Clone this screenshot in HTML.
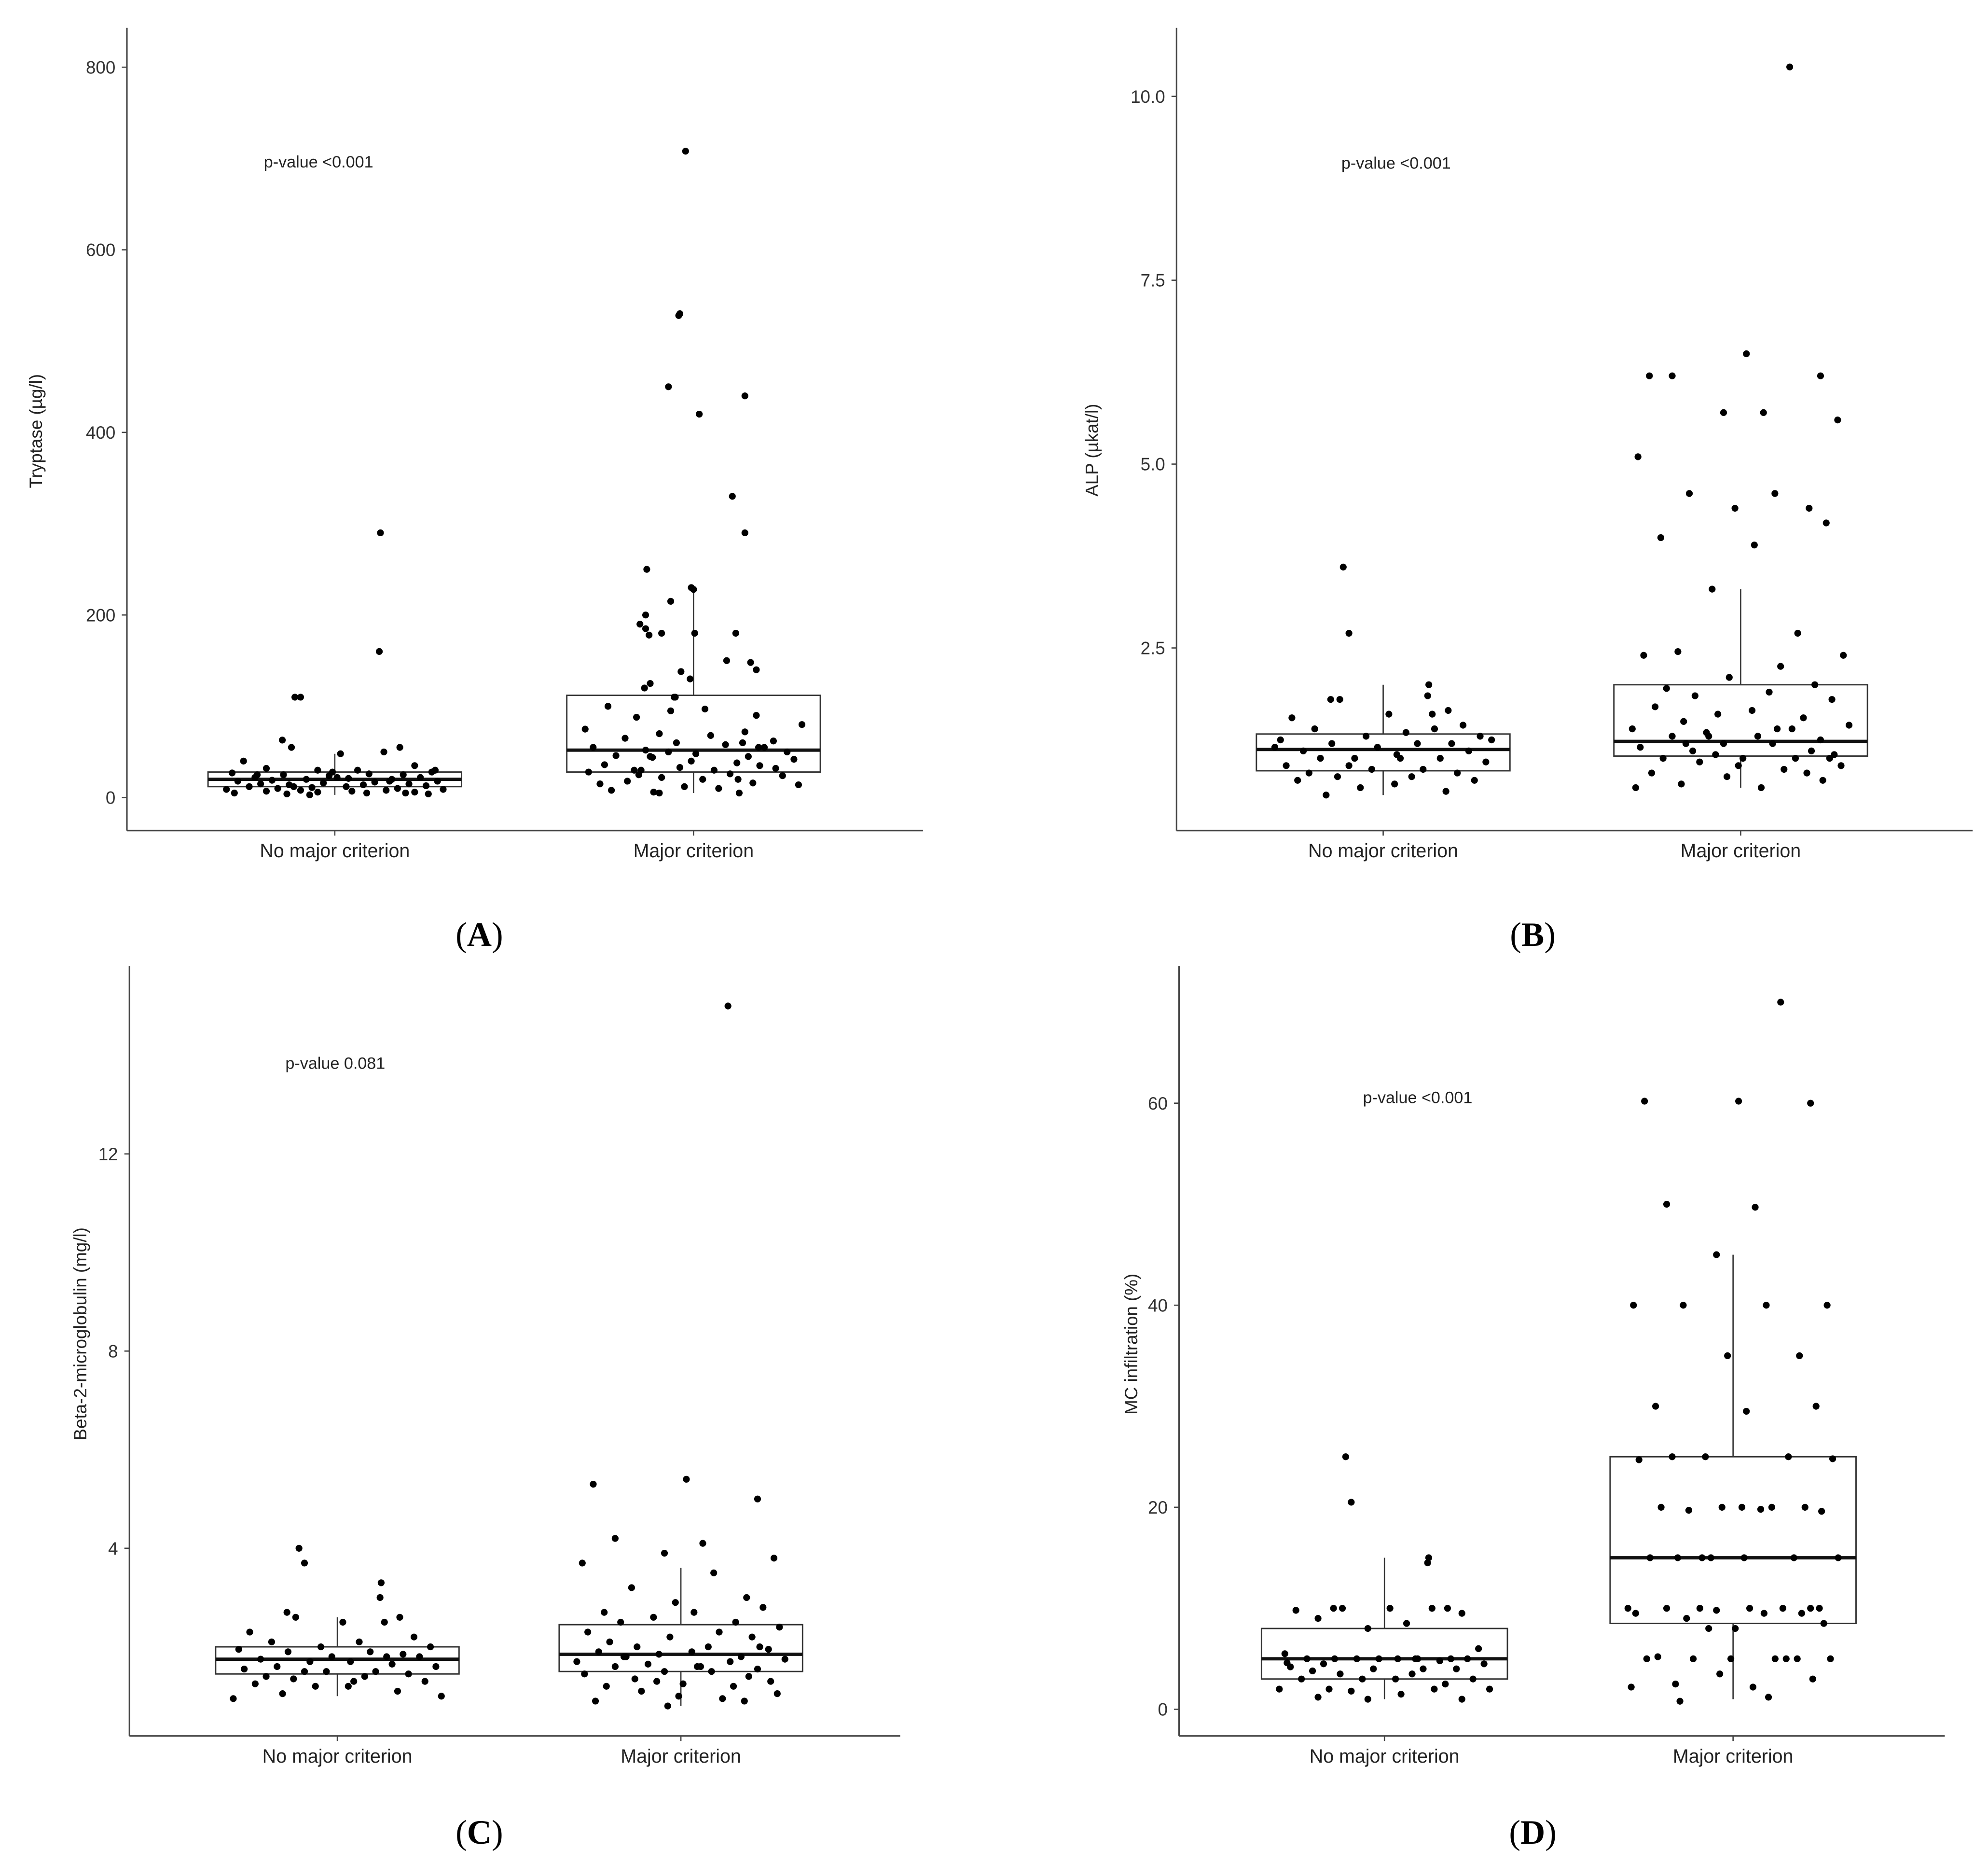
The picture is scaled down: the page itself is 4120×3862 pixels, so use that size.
<!DOCTYPE html>
<html><head><meta charset="utf-8"><style>
html,body{margin:0;padding:0;background:#fff;}
svg{display:block;}
text{font-family:"Liberation Sans",Arial,sans-serif;}
text.serif{font-family:"Liberation Serif","Times New Roman",serif;}
</style></head><body>
<svg id="fig" width="4120" height="3862" viewBox="0 0 1568 1470" xmlns="http://www.w3.org/2000/svg"></svg>
<script>
const categories = ["No major criterion","Major criterion"];
const JIT = [-0.35,-0.3,0.4,0.39,-0.46,-0.38,0.57,0.43,0.05,-0.8,0.7,-0.6,0.2,-0.15,0.85,-0.9,0.3,-0.45,0.6,-0.05,0.75,-0.7,0.12,-0.25,0.5,-0.55,0.9,-0.85,0.35,-0.1,0.65,-0.65,0.25,-0.4,0.8,-0.75,0.1,-0.2,0.55,-0.5,0.95,-0.95,0.45,-0.3,0.15,-0.6,0.7,-0.15,0.28,-0.88,0.62,-0.42,0.82,-0.22,0.02,-0.68,0.48,-0.36,0.88,-0.02,0.38,-0.78,0.58,-0.12,0.72,-0.52,0.18,-0.92,0.32,-0.48,0.78,-0.28,0.08,-0.58,0.52,-0.82,0.92,-0.08,0.22,-0.72];
const JIT2 = [-0.07,-0.12,-0.13,-0.22,0.45,0.05,0.34,0.45,-0.41,-0.02,0.0,-0.2,-0.42,-0.47,-0.42,-0.28,0.01,0.37,-0.39,0.29,0.5,0.55,-0.11,-0.03,-0.38,-0.43,-0.17,-0.16];
const ticksA=[0,200,400,600,800], boxA1=[3,12,20,28,48], boxA2=[5,28,52,112,230];
const ptsA1=[110,110,290,160,63,55,55,50,48,40,35,32,30,30,28,27,26,25,25,24,22,22,21,20,20,19,18,18,17,16,15,15,14,14,13,12,12,11,10,10,9,9,8,8,7,7,6,6,5,5,5,4,4,3,22,25,18,12,30,28];
const ptsA2=[708,530,528,450,440,420,330,290,250,230,228,215,200,190,185,180,180,180,178,150,148,140,138,130,125,120,110,110,100,97,95,90,88,80,75,72,70,68,65,62,60,58,55,55,52,50,50,48,46,45,44,42,40,38,36,35,33,32,30,30,28,26,25,24,22,20,18,16,15,14,12,10,8,6,5,5,20,30,45,55,60];
const ticksB=[2.5,5.0,7.5,10.0], boxB1=[0.5,0.83,1.12,1.33,2.0], boxB2=[0.6,1.03,1.23,2.0,3.3];
const ptsB1=[3.6,2.7,2.0,1.85,1.8,1.8,1.65,1.6,1.6,1.55,1.45,1.4,1.35,1.3,1.3,1.25,1.2,1.2,1.2,1.15,1.1,1.1,1.05,1.0,1.0,1.0,0.95,0.9,0.85,0.85,0.8,0.8,0.75,0.75,0.7,0.7,0.65,0.6,0.55,0.5,1.25,1.15,1.4,0.9,1.0];
const ptsB2=[10.4,6.5,6.2,6.2,6.2,5.7,5.7,5.6,5.1,4.6,4.6,4.4,4.4,4.2,4.0,3.9,3.3,2.7,2.45,2.4,2.4,2.25,2.1,2.0,1.95,1.9,1.85,1.8,1.7,1.65,1.6,1.55,1.5,1.45,1.4,1.4,1.35,1.3,1.3,1.25,1.2,1.2,1.15,1.1,1.1,1.05,1.05,1.0,1.0,1.0,0.95,0.9,0.9,0.85,0.8,0.8,0.75,0.7,0.65,0.6,0.6,1.4,1.2,1.0,1.3];
const ticksC=[4,8,12], boxC1=[1.0,1.45,1.75,2.0,2.6], boxC2=[0.8,1.5,1.85,2.45,3.6];
const ptsC1=[4.0,3.7,3.3,3.0,2.7,2.6,2.6,2.5,2.5,2.3,2.2,2.1,2.1,2.0,2.0,1.95,1.9,1.9,1.85,1.8,1.8,1.75,1.7,1.7,1.65,1.6,1.6,1.55,1.5,1.5,1.45,1.4,1.4,1.35,1.3,1.25,1.2,1.2,1.1,1.05,1.0,0.95,1.8,1.5,1.3];
const ptsC2=[15.0,5.4,5.3,5.0,4.2,4.1,3.9,3.8,3.7,3.5,3.2,3.0,2.9,2.8,2.7,2.7,2.6,2.5,2.5,2.4,2.3,2.3,2.2,2.2,2.1,2.0,2.0,1.95,1.9,1.9,1.85,1.8,1.8,1.75,1.7,1.7,1.65,1.6,1.6,1.55,1.5,1.5,1.45,1.4,1.35,1.3,1.3,1.25,1.2,1.2,1.1,1.05,1.0,0.95,0.9,0.9,0.8,2.0,1.8,1.6];
const ticksD=[0,20,40,60], boxD1=[1,3,5,8,15], boxD2=[1,8.5,15,25,45];
const ptsD1=[25,20.5,15,14.5,10,10,10,10,10,9.8,9.5,9,8.5,8,6,5.5,5,5,5,5,5,5,5,5,4.8,4.5,4.5,4.2,4,4,4,3.8,3.5,3.5,3,3,3,3,2.5,2,2,2,2,1.8,1.5,1.2,1,1,5,4.6];
const ptsD2=[70,60.2,60.2,60,50,49.7,45,40,40,40,40,35,35,30,30,29.5,25,25,25,24.8,24.7,20,20,20,20,19.8,19.7,19.6,15,15,15,15,15,15,10,10,10,10,10,10,9.8,9.5,9.5,9.5,9,8.5,8,8,5.2,5,5,5,5,5,5,5,3.5,3,2.5,2.2,2.2,1.2,0.8,10,15,20];

const NS="http://www.w3.org/2000/svg";
const svg=document.getElementById('fig');
function el(tag,attrs,parent,txt){const e=document.createElementNS(NS,tag);for(const k in attrs)e.setAttribute(k,attrs[k]);if(txt!==undefined)e.textContent=txt;(parent||svg).appendChild(e);return e;}

function panel(cfg){
  const g=el('g',{},svg);
  
  
  const y=v=>cfg.y0+(v-cfg.v0)*(cfg.y1-cfg.y0)/(cfg.v1-cfg.v0);
  const ax=el('line',{x1:cfg.xl,y1:cfg.top,x2:cfg.xl,y2:cfg.bot,stroke:'#444','stroke-width':1.2},g);
  
  
  const xa=el('line',{x1:cfg.xl,y1:cfg.bot,x2:cfg.xr,y2:cfg.bot,stroke:'#444','stroke-width':1.2},g);
  
  
  cfg.ticks.forEach(t=>{
    const yy=y(t);
    el('line',{x1:cfg.xl-4,y1:yy,x2:cfg.xl,y2:yy,stroke:'#444','stroke-width':1},g);
    const lb=el('text',{x:cfg.xl-9,y:yy+5,'text-anchor':'end','font-size':14,fill:'#333'},g,cfg.fmt?t.toFixed(1):String(t));
    
    
  });
  categories.forEach((c,i)=>{
    const cx=cfg.cx[i];
    el('line',{x1:cx,y1:cfg.bot,x2:cx,y2:cfg.bot+4,stroke:'#444','stroke-width':1},g);
    const lb=el('text',{x:cx,y:cfg.bot+21,'text-anchor':'middle','font-size':15,fill:'#222'},g,c);
    
    
    const b=cfg.boxes[i], hw=cfg.hw;
    const wl=el('line',{x1:cx,y1:y(b[0]),x2:cx,y2:y(b[4]),stroke:'#333','stroke-width':1},g);
    
    
    const r=el('rect',{x:cx-hw,y:y(b[3]),width:2*hw,height:y(b[1])-y(b[3]),fill:'#fff',stroke:'#333','stroke-width':1.1},g);
    
    
    const m=el('line',{x1:cx-hw,y1:y(b[2]),x2:cx+hw,y2:y(b[2]),stroke:'#111','stroke-width':2.6},g);
    
    
    const pts=cfg.pts[i];
    pts.forEach((v,k)=>{
      const j=(i===1&&k<JIT2.length&&cfg.useJ2)?JIT2[k]:JIT[(k+i*7)%JIT.length];
      const p=el('circle',{cx:cx+j*hw*0.9,cy:y(v),r:2.7,fill:'#000'},g);
      
      
    });
  });
  const yt=el('text',{x:0,y:0,'text-anchor':'middle','font-size':14,fill:'#222',transform:`translate(${cfg.tx},${cfg.ty}) rotate(-90)`},g,cfg.title);
  
  
  const pv=el('text',{x:cfg.px,y:cfg.py,'font-size':13,fill:'#222'},g,cfg.pval);
  
  
  const pl=el('text',{x:cfg.lx,y:cfg.ly,'text-anchor':'middle','font-size':27,fill:'#000','class':'serif'},g);
  el('tspan',{},pl,'(');el('tspan',{'font-weight':'bold'},pl,cfg.letter);el('tspan',{},pl,')');
  
  
}

panel({name:'panel-a',xl:100,xr:728,top:22,bot:655,v0:0,y0:629,v1:800,y1:53,ticks:ticksA,cx:[264,547],hw:100,boxes:[boxA1,boxA2],pts:[ptsA1,ptsA2],useJ2:true,title:'Tryptase (µg/l)',tx:33,ty:340,pval:'p-value <0.001',px:208,py:132,letter:'A',lx:378,ly:746});
panel({name:'panel-b',xl:928,xr:1556,top:22,bot:655,v0:2.5,y0:511,v1:10,y1:76,ticks:ticksB,fmt:true,cx:[1091,1373],hw:100,boxes:[boxB1,boxB2],pts:[ptsB1,ptsB2],title:'ALP (µkat/l)',tx:866,ty:355,pval:'p-value <0.001',px:1058,py:133,letter:'B',lx:1209,ly:746});
panel({name:'panel-c',xl:102,xr:710,top:762,bot:1369,v0:4,y0:1221,v1:12,y1:910,ticks:ticksC,cx:[266,537],hw:96,boxes:[boxC1,boxC2],pts:[ptsC1,ptsC2],title:'Beta-2-microglobulin (mg/l)',tx:68,ty:1052,pval:'p-value 0.081',px:225,py:843,letter:'C',lx:378,ly:1454});
panel({name:'panel-d',xl:930,xr:1534,top:762,bot:1369,v0:0,y0:1348,v1:60,y1:870,ticks:ticksD,cx:[1092,1367],hw:97,boxes:[boxD1,boxD2],pts:[ptsD1,ptsD2],title:'MC infiltration (%)',tx:897,ty:1060,pval:'p-value <0.001',px:1075,py:870,letter:'D',lx:1209,ly:1454});
</script>
</body></html>
